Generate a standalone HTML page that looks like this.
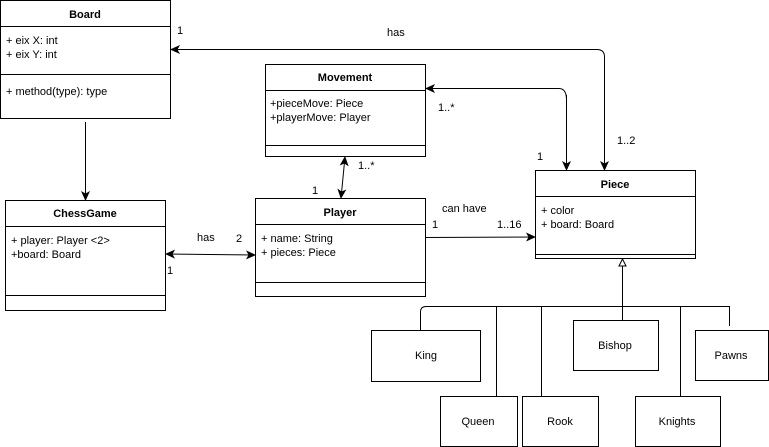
<!DOCTYPE html>
<html><head><style>body{margin:0;background:#fff}svg{display:block}text{font-family:"Liberation Sans",Arial,sans-serif;font-size:11px;fill:#000}.b{font-weight:bold}</style></head><body>
<svg width="769" height="447" viewBox="0 0 769 447">
<defs><marker id="a" markerWidth="10" markerHeight="10" refX="9" refY="5" orient="auto" markerUnits="userSpaceOnUse"><path d="M0,0.5 L10,5 L0,9.5 L2.5,5z" fill="#000"/></marker></defs>
<g fill="#fff" stroke="#000" stroke-width="1">
<rect x="0.5" y="0.5" width="170" height="118"/><line x1="0.5" y1="26.5" x2="170.5" y2="26.5"/><line x1="0.5" y1="74.5" x2="170.5" y2="74.5"/>
<rect x="265.5" y="64.5" width="160" height="92"/><line x1="265.5" y1="90.5" x2="425.5" y2="90.5"/><line x1="265.5" y1="145.5" x2="425.5" y2="145.5"/>
<rect x="5.5" y="200.5" width="160" height="110"/><line x1="5.5" y1="226.5" x2="165.5" y2="226.5"/><line x1="5.5" y1="295.5" x2="165.5" y2="295.5"/>
<rect x="255.5" y="198.5" width="170" height="98"/><line x1="255.5" y1="224.5" x2="425.5" y2="224.5"/><line x1="255.5" y1="282.5" x2="425.5" y2="282.5"/>
<rect x="535.5" y="170.5" width="160" height="88"/><line x1="535.5" y1="196.5" x2="695.5" y2="196.5"/><line x1="535.5" y1="254.5" x2="695.5" y2="254.5"/>
<rect x="371.5" y="330.5" width="109" height="51"/>
<rect x="440.5" y="396.5" width="77" height="50"/>
<rect x="522.5" y="396.5" width="76" height="50"/>
<rect x="573.5" y="320.5" width="85" height="50"/>
<rect x="635.5" y="396.5" width="85" height="50"/>
<rect x="695.5" y="330.5" width="73" height="50"/>
</g>
<g fill="none" stroke="#000" stroke-width="1">
<line x1="85.5" y1="122" x2="85.5" y2="200" marker-end="url(#a)"/>
<path d="M604.5,170 V57 Q604.5,49.5 597,49.5 H171" marker-end="url(#a)"/>
<path d="M604.5,60 V170" marker-end="url(#a)"/>
<path d="M566.5,100 Q566.5,88.5 559,88.5 H426" marker-end="url(#a)"/>
<path d="M566.5,95 V170" marker-end="url(#a)"/>
<line x1="343" y1="177.5" x2="345" y2="157" marker-end="url(#a)"/>
<line x1="343" y1="177.5" x2="341" y2="198" marker-end="url(#a)"/>
<line x1="210" y1="254.5" x2="166" y2="254" marker-end="url(#a)"/>
<line x1="210" y1="254.5" x2="255" y2="255" marker-end="url(#a)"/>
<line x1="425" y1="237.5" x2="535" y2="237" marker-end="url(#a)"/>
<path d="M420.5,330 V312 Q420.5,306.5 426,306.5 H729.5 V326"/>
<line x1="496.5" y1="306" x2="496.5" y2="396"/>
<line x1="541.5" y1="306" x2="541.5" y2="396"/>
<line x1="680.5" y1="306" x2="680.5" y2="396"/>
<line x1="622.5" y1="266" x2="622.5" y2="320"/>
<path d="M622.5,259 L626,266 H619Z" fill="#fff"/>
</g>
<text x="85" y="18" text-anchor="middle" class="b">Board</text>
<text x="6" y="44">+ eix X: int</text><text x="6" y="58">+ eix Y: int</text>
<text x="6" y="95">+ method(type): type</text>
<text x="345" y="81" text-anchor="middle" class="b">Movement</text>
<text x="270" y="107">+pieceMove: Piece</text><text x="270" y="121">+playerMove: Player</text>
<text x="85" y="217" text-anchor="middle" class="b">ChessGame</text>
<text x="11" y="244">+ player: Player &lt;2&gt;</text><text x="11" y="258">+board: Board</text>
<text x="340" y="216" text-anchor="middle" class="b">Player</text>
<text x="261" y="242">+ name: String</text><text x="261" y="256">+ pieces: Piece</text>
<text x="615" y="188" text-anchor="middle" class="b">Piece</text>
<text x="541" y="214">+ color</text><text x="541" y="228">+ board: Board</text>
<text x="426" y="359" text-anchor="middle">King</text>
<text x="478" y="425" text-anchor="middle">Queen</text>
<text x="560" y="425" text-anchor="middle">Rook</text>
<text x="615" y="349" text-anchor="middle">Bishop</text>
<text x="677" y="425" text-anchor="middle">Knights</text>
<text x="731" y="359" text-anchor="middle">Pawns</text>
<text x="177" y="34">1</text><text x="387" y="36">has</text>
<text x="438" y="111">1..*</text><text x="537" y="160">1</text><text x="617" y="144">1..2</text>
<text x="358" y="169">1..*</text><text x="312" y="194">1</text>
<text x="197" y="241">has</text><text x="236" y="242">2</text><text x="167" y="274">1</text>
<text x="442" y="212">can have</text><text x="432" y="228">1</text><text x="497" y="228">1..16</text>
</svg></body></html>
